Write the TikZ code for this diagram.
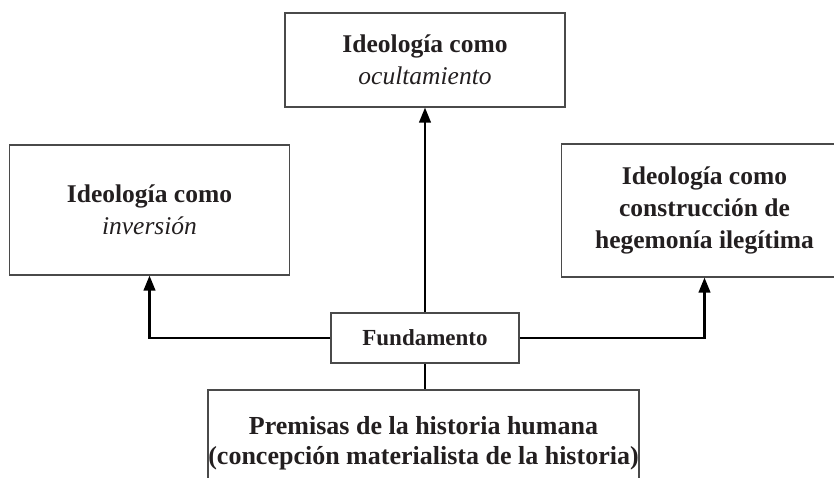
\documentclass[tikz,border=0pt]{standalone}
\usepackage{fontspec}
\setmainfont{Liberation Serif}
\usetikzlibrary{arrows.meta}
\definecolor{ink}{HTML}{231F20}
\definecolor{frame}{HTML}{4A4A4A}
\begin{document}
\begin{tikzpicture}[x=1pt,y=-1pt,
  box/.style={draw=frame,line width=1.1pt,rectangle,inner sep=0pt,align=center,text=ink,
    font=\fontsize{25.5}{32}\selectfont\bfseries},
  link/.style={draw=black,line width=2.4pt},
  arr/.style={link,-{Triangle[length=15pt,width=11.5pt]}}]
\useasboundingbox (0,0) rectangle (834,477);
\node[box,minimum width=280pt,minimum height=94pt] (top) at (425,60) {Ideología como\\\mdseries\itshape ocultamiento};
\node[box,minimum width=280pt,minimum height=130pt] (left) at (149.5,210) {Ideología como\\\mdseries\itshape inversión};
\node[box,minimum width=286pt,minimum height=133pt] (right) at (704.5,210.5) {Ideología como\\construcción de\\hegemonía ilegítima};
\node[box,minimum width=188pt,minimum height=50pt,font=\fontsize{23}{28}\selectfont\bfseries] (fund) at (425,338) {Fundamento};
\node[box,minimum width=431pt,minimum height=106pt,font=\fontsize{26}{30}\selectfont\bfseries] (base) at (423.5,443) {Premisas de la historia humana\\(concepción materialista de la historia)};
\draw[arr] (fund.north) -- (top.south);
\draw[arr] (fund.west) -| (left.south);
\draw[arr] (fund.east) -| (right.south);
\draw[link] (fund.south) -- (fund.south |- base.north);
\end{tikzpicture}
\end{document}
